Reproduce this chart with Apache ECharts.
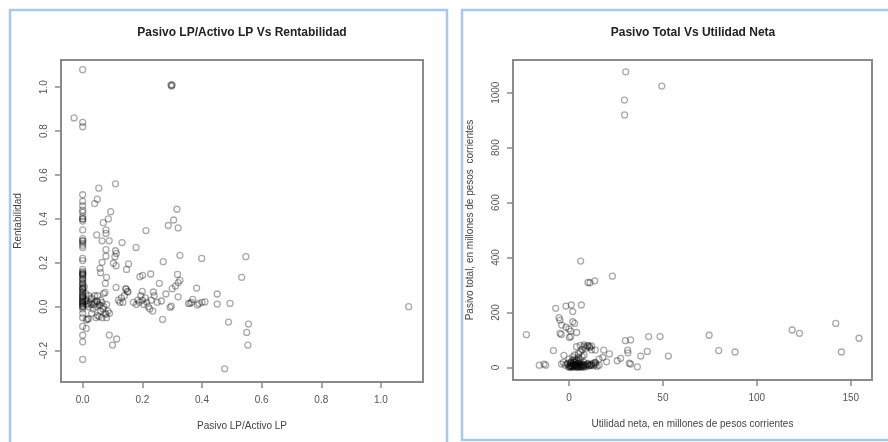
<!DOCTYPE html>
<html>
<head>
<meta charset="utf-8">
<script src="https://cdn.jsdelivr.net/npm/echarts@6/dist/echarts.min.js"></script>
<style>html,body{margin:0;padding:0;background:#fff;}#c{width:888px;height:442px;}</style>
</head>
<body>
<div id="c"></div>
<script>
// ---- Left chart: Pasivo LP/Activo LP (x) vs Rentabilidad (y)
const leftTitle = "Pasivo LP/Activo LP Vs Rentabilidad";
const leftXName = "Pasivo LP/Activo LP";
const leftYName = "Rentabilidad";
const leftXTicks = [0, 0.2, 0.4, 0.6, 0.8, 1.0];
const leftYTicks = [-0.2, 0, 0.2, 0.4, 0.6, 0.8, 1.0];
const leftX = [
  0,0,0,0,0,0,0,0,0,0,0,0,0,0,0,0,0,0,0,0,0,0,0,0,0,0,0,0,0,0,0,0,0,0,0,0,0,0,0,0,0,0,0,0,0,0,0,0,0,0,
  0,0,0,0,0,0,0,0,0,0,0,0,
  0.005,0.01,0.012,0.015,0.02,0.02,0.025,0.03,0.03,0.035,0.04,0.04,0.045,0.05,0.05,0.055,0.06,0.06,0.065,0.07,0.07,0.075,0.08,0.08,0.085,0.09,0.012,0.02,0.045,0.055,0.065,0.075,0.05,0.03,
  0.008,0.018,0.028,0.038,0.048,0.058,0.068,0.078,
  -0.029,0.296,0.298,0.30,0.11,0.054,0.049,0.040,0.094,0.086,0.069,0.078,0.078,0.047,0.212,0.287,0.305,0.316,0.320,0.065,0.089,0.132,0.078,0.11,0.113,0.108,0.078,0.179,0.326,0.399,0.547,0.533,
  0.103,0.112,0.154,0.147,0.058,0.06,0.065,0.192,0.201,0.228,0.27,0.318,0.326,0.32,0.08,0.076,0.112,0.145,0.152,0.257,0.30,0.382,0.237,0.279,0.311,0.32,0.451,0.451,0.494,
  0.369,0.293,0.297,0.264,0.268,0.489,0.556,0.55,0.554,0.476,1.093,0.089,0.114,0.10,0.016,0.012,
  0.12,0.125,0.13,0.135,0.14,0.145,0.15,0.17,0.18,0.185,0.19,0.195,0.20,0.20,0.205,0.21,0.215,0.22,0.225,0.23,0.235,0.24,0.25,
  0.355,0.36,0.365,0.385,0.39,0.40,0.41
];
const leftY = [
  1.08,0.84,0.82,0.51,0.48,0.46,0.44,0.43,0.41,0.40,0.40,0.39,0.35,0.31,0.30,0.29,0.28,0.27,0.22,0.21,0.17,0.16,0.15,0.15,0.14,0.13,0.12,0.11,0.10,0.09,0.08,0.08,0.07,0.06,0.05,0.05,0.04,0.03,0.02,0.02,0.01,0.0,0.0,-0.01,-0.03,-0.05,-0.09,-0.13,-0.16,-0.24,
  0.155,0.145,0.125,0.105,0.085,0.065,0.045,0.035,0.025,0.015,0.005,0.3,
  0.09,0.06,0.03,0.01,0.05,0.0,0.02,0.04,0.01,-0.01,0.02,0.05,0.0,0.02,-0.04,0.01,0.03,-0.02,-0.05,0.0,0.06,-0.03,0.01,-0.05,-0.02,-0.03,-0.06,-0.055,-0.05,-0.045,0.02,0.065,0.05,-0.03,
  0.025,0.015,0.035,0.01,0.025,0.005,-0.01,-0.035,
  0.86,1.01,1.005,1.01,0.56,0.54,0.49,0.47,0.433,0.40,0.383,0.35,0.334,0.327,0.347,0.37,0.395,0.444,0.359,0.30,0.30,0.292,0.26,0.255,0.243,0.228,0.23,0.27,0.234,0.22,0.228,0.134,
  0.198,0.187,0.195,0.17,0.175,0.155,0.202,0.137,0.143,0.149,0.205,0.147,0.12,0.11,0.134,0.106,0.088,0.082,0.067,0.106,0.082,0.085,0.067,0.058,0.094,0.045,0.058,0.012,0.015,
  0.033,-0.003,0.003,0.026,-0.058,-0.07,-0.079,-0.117,-0.175,-0.283,0.0,-0.129,-0.147,-0.175,-0.056,-0.099,
  0.03,0.02,0.04,0.02,0.05,0.08,0.07,0.02,0.01,0.03,0.02,0.05,0.07,0.03,0.01,0.04,0.02,0.0,-0.01,0.03,-0.02,0.05,0.02,
  0.015,0.015,0.02,0.008,0.015,0.02,0.022
];

// ---- Right chart: Utilidad neta (x) vs Pasivo total (y)
const rightTitle = "Pasivo Total Vs Utilidad Neta";
const rightXName = "Utilidad neta, en millones de pesos corrientes";
const rightYName = "Pasivo total, en millones de pesos  corrientes";
const rightXTicks = [0, 50, 100, 150];
const rightYTicks = [0, 200, 400, 600, 800, 1000];
const rightX = [
  30.2,49.4,29.5,29.6,6.2,10.1,11.2,13.7,23.1,-7.1,-1.6,1.2,2,6.6,-5.3,-4.8,-3.9,-1.6,0,0.9,2,3,4.1,-4.8,-4.1,0.2,0.9,-22.7,
  -15.8,-12.4,-13.3,-8.3,-2.7,-4,-0.5,30,32.8,42.4,48.5,31.2,31.4,41.7,38.2,52.9,21.5,18.5,14,32.1,32.8,36.4,25.7,27.5,
  74.6,79.7,88.4,118.8,122.7,142,145,154.4,
  4,6,8,10,11,
  0,0.5,1,1.5,2,2.5,3,3.5,4,4.5,5,5.5,6,6.5,7,7.5,8,9,10,11,12,13,14,15,16,1,2,3,4,5,6,7,8,6,5,9,8,7,10,11,12,3,2,-1,-2,-3,0,1,3,4,0,1,2,3,4,5,6,7,8,13,14,16,18,20,12,
  0.5,1.5,2.5,3.5,4.5,5.5,6.5,7.5,8.5,9.5,10.5,11.5,1,2,3,4,5,6,8,10,12,14
];
const rightY = [
  1076,1024,973,919,387,309,308,315,332,215,223,227,203,227,181,172,154,146,140,132,166,160,127,124,120,109,112,119,
  8,8,12,61,44,12,15,97,100,112,112,63,53,58,41,41,49,63,63,15,12,2,24,33,
  117,61,56,136,124,160,56,106,
  75,80,82,78,76,
  2,5,8,3,10,6,4,12,8,2,15,5,9,3,12,6,10,4,14,8,12,6,10,4,8,20,25,30,22,35,28,40,45,55,50,70,75,65,80,72,78,45,38,12,8,18,30,15,18,28,0,1,0,2,1,0,1,2,0,15,18,30,36,20,64,
  6,4,9,7,5,11,3,8,6,10,5,7,16,12,20,10,24,14,18,12,9,16
];

const pairs = (xs, ys) => xs.map((x, i) => [x, ys[i]]);

const gray = '#8a8a8a';
const labelColor = '#555';
const font = 'Liberation Sans, Arial, sans-serif';

function xAxisDef(gridIndex, min, max, ticks, name, fmt) {
  return {
    gridIndex, type: 'value', min, max,
    name, nameLocation: 'middle', nameGap: 39,
    nameTextStyle: {color: '#444', fontSize: 10, fontFamily: font},
    axisLine: {show: false, onZero: false},
    splitLine: {show: false},
    axisTick: {show: true, inside: false, length: 6, customValues: ticks, lineStyle: {color: gray, width: 1.5}},
    axisLabel: {show: true, margin: 13, customValues: ticks, color: labelColor, fontSize: 10, fontFamily: font, formatter: fmt}
  };
}
function yAxisDef(gridIndex, min, max, ticks, name, fmt) {
  return {
    gridIndex, type: 'value', min, max,
    name, nameLocation: 'middle', nameGap: 38,
    nameTextStyle: {color: '#444', fontSize: 10, fontFamily: font},
    axisLine: {show: false, onZero: false},
    splitLine: {show: false},
    axisTick: {show: true, inside: false, length: 6, customValues: ticks, lineStyle: {color: gray, width: 1.5}},
    axisLabel: {show: true, rotate: 90, margin: 12, customValues: ticks, color: labelColor, fontSize: 10, fontFamily: font, formatter: fmt}
  };
}

const fmt1 = v => Number(v).toFixed(1);
const fmt0 = v => String(Math.round(v));

const chart = echarts.init(document.getElementById('c'), null, {renderer: 'canvas'});
chart.setOption({
  backgroundColor: '#fff',
  animation: false,
  title: [
    {text: leftTitle, left: 242, top: 27, textAlign: 'center', padding: 0,
     textStyle: {fontSize: 12, fontWeight: 'bold', color: '#222', fontFamily: font}},
    {text: rightTitle, left: 693, top: 27, textAlign: 'center', padding: 0,
     textStyle: {fontSize: 12, fontWeight: 'bold', color: '#222', fontFamily: font}}
  ],
  graphic: [
    {type: 'rect', shape: {x: 10, y: 10, width: 437, height: 440}, style: {fill: 'none', stroke: '#a9c9ec', lineWidth: 2.5}, silent: true},
    {type: 'rect', shape: {x: 462, y: 10, width: 440, height: 430}, style: {fill: 'none', stroke: '#a9c9ec', lineWidth: 2.5}, silent: true}
  ],
  grid: [
    {left: 61, top: 60, width: 362, height: 322, show: true, borderColor: gray, borderWidth: 2, backgroundColor: 'transparent'},
    {left: 513, top: 60, width: 359, height: 320, show: true, borderColor: gray, borderWidth: 2, backgroundColor: 'transparent'}
  ],
  xAxis: [
    xAxisDef(0, -0.0727, 1.141, leftXTicks, leftXName, fmt1),
    xAxisDef(1, -29.8, 161.3, rightXTicks, rightXName, fmt0)
  ],
  yAxis: [
    yAxisDef(0, -0.343, 1.124, leftYTicks, leftYName, fmt1),
    yAxisDef(1, -46, 1119, rightYTicks, rightYName, fmt0)
  ],
  series: [
    {type: 'scatter', xAxisIndex: 0, yAxisIndex: 0, data: pairs(leftX, leftY),
     symbol: 'circle', symbolSize: 6,
     itemStyle: {color: 'rgba(0,0,0,0)', borderColor: 'rgba(0,0,0,0.42)', borderWidth: 1.3}},
    {type: 'scatter', xAxisIndex: 1, yAxisIndex: 1, data: pairs(rightX, rightY),
     symbol: 'circle', symbolSize: 6,
     itemStyle: {color: 'rgba(0,0,0,0)', borderColor: 'rgba(0,0,0,0.42)', borderWidth: 1.3}}
  ]
});
</script>
</body>
</html>
